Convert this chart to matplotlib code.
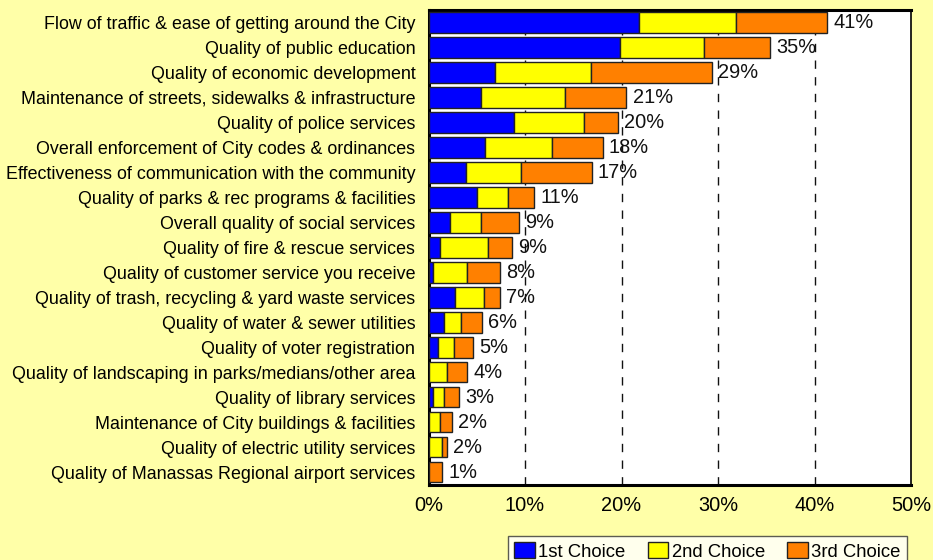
import matplotlib
matplotlib.use("Agg")
import matplotlib.pyplot as plt
import numpy as np

categories = [
    "Flow of traffic & ease of getting around the City",
    "Quality of public education",
    "Quality of economic development",
    "Maintenance of streets, sidewalks & infrastructure",
    "Quality of police services",
    "Overall enforcement of City codes & ordinances",
    "Effectiveness of communication with the community",
    "Quality of parks & rec programs & facilities",
    "Overall quality of social services",
    "Quality of fire & rescue services",
    "Quality of customer service you receive",
    "Quality of trash, recycling & yard waste services",
    "Quality of water & sewer utilities",
    "Quality of voter registration",
    "Quality of landscaping in parks/medians/other area",
    "Quality of library services",
    "Maintenance of City buildings & facilities",
    "Quality of electric utility services",
    "Quality of Manassas Regional airport services",
]
first_choice = [21.8, 19.8, 6.9, 5.4, 8.9, 5.9, 3.9, 5.0, 2.2, 1.2, 0.45, 2.7, 1.65, 0.95, 0.0, 0.45, 0.0, 0.0, 0.0]
second_choice = [10.1, 8.7, 9.9, 8.7, 7.2, 6.9, 5.7, 3.2, 3.2, 5.0, 3.5, 3.0, 1.7, 1.7, 1.95, 1.2, 1.2, 1.4, 0.1]
third_choice = [9.4, 6.9, 12.6, 6.4, 3.5, 5.25, 7.3, 2.75, 4.0, 2.45, 3.45, 1.7, 2.2, 2.0, 2.05, 1.5, 1.2, 0.5, 1.3]
total_labels = ["41%", "35%", "29%", "21%", "20%", "18%", "17%", "11%", "9%", "9%",
                "8%", "7%", "6%", "5%", "4%", "3%", "2%", "2%", "1%"]
series_names = ["1st Choice", "2nd Choice", "3rd Choice"]
xticks = [0, 10, 20, 30, 40, 50]
xtick_labels = ["0%", "10%", "20%", "30%", "40%", "50%"]

bg = "#FFFFA8"
colors = ["#0000FF", "#FFFF00", "#FF8000"]

fig = plt.figure(figsize=(9.33, 5.6), dpi=100, facecolor=bg)
ax = fig.add_axes([428.5 / 933, 1 - 484.5 / 560, (911 - 428.5) / 933, (484.5 - 10) / 560])
ax.set_facecolor("white")

y = np.arange(len(categories))
left = np.zeros(len(categories))
for vals, col, name in zip([first_choice, second_choice, third_choice], colors, series_names):
    v = np.array(vals)
    ax.barh(y, v, left=left, height=0.83, color=col, edgecolor="#222222",
            linewidth=1.0, label=name, zorder=3)
    left = left + v

for yi, tot, lab in zip(y, left, total_labels):
    ax.annotate(lab, (tot, yi), xytext=(4.5, 0), textcoords="offset points",
                ha="left", va="center", fontsize=14.4, family="Liberation Sans",
                color="#111111", zorder=4)

ax.set_xlim(0, 50)
ax.set_ylim(len(categories) - 0.5, -0.5)
ax.set_xticks(xticks)
ax.set_xticklabels(xtick_labels, fontsize=14.4, family="Liberation Sans")
ax.set_yticks(y)
ax.set_yticklabels(categories, fontsize=12.85, family="Liberation Sans")
ax.tick_params(axis="x", length=0, pad=8)
ax.tick_params(axis="y", length=0, pad=9.5)

for gx in xticks[1:-1]:
    ax.axvline(gx, color="#111111", linewidth=1.0, linestyle=(0, (6, 6)), zorder=1)

for side in ["left", "bottom", "top"]:
    ax.spines[side].set_linewidth(2.2)
    ax.spines[side].set_color("black")
ax.spines["right"].set_linewidth(1.2)
ax.spines["right"].set_color("black")

leg = fig.legend(loc="upper left", bbox_to_anchor=(508 / 933, 1 - 536 / 560), ncol=3,
                 frameon=True, fancybox=False, edgecolor="#333333", facecolor="white",
                 borderaxespad=0, prop={"family": "Liberation Sans", "size": 13.3},
                 handlelength=1.1, handleheight=0.9, handletextpad=0.2,
                 columnspacing=1.2, borderpad=0.35)
leg.get_frame().set_linewidth(1.0)

fig.savefig("out.png", dpi=100, facecolor=bg)
